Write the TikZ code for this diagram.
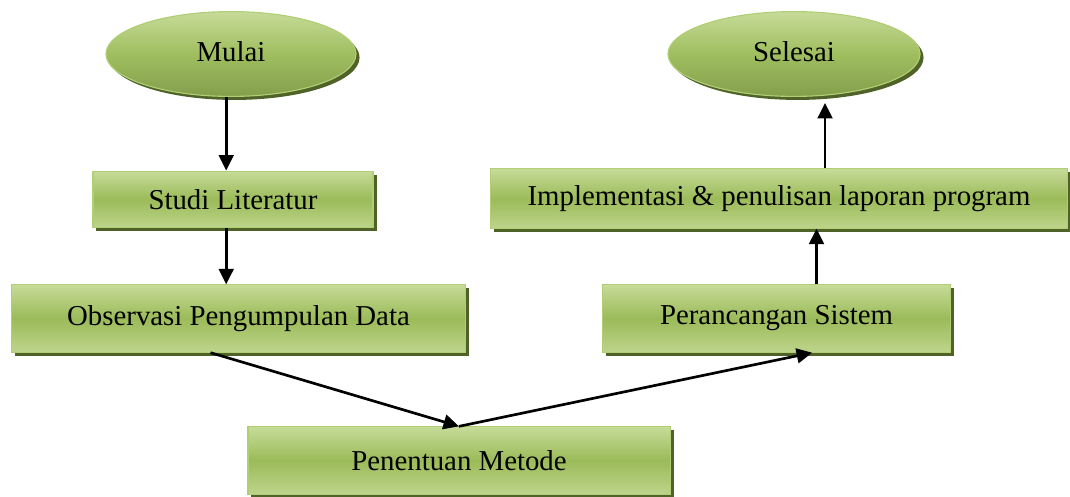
\documentclass[tikz,border=0pt]{standalone}
\usepackage{fontspec}
\setmainfont{Liberation Serif}
\usetikzlibrary{shapes.geometric,shadows,arrows.meta}

\definecolor{hijaumuda}{RGB}{198,219,152}
\definecolor{hijau}{RGB}{155,187,89}
\definecolor{hijautua}{RGB}{79,98,40}
\definecolor{tepi}{RGB}{176,206,115}

\tikzset{
  kotak/.style={rectangle, draw=tepi, line width=0.8pt, inner sep=0pt,
    top color=hijaumuda, bottom color=hijaumuda!80!hijau, middle color=hijau,
    general shadow={fill=hijautua, shadow xshift=2.5pt, shadow yshift=-2.5pt},
    font=\fontsize{20.5}{24}\selectfont},
  elips/.style={ellipse, draw=tepi, line width=0.8pt, inner sep=0pt,
    top color=hijaumuda, bottom color=hijau!85!black, middle color=hijau!90!hijaumuda,
    general shadow={fill=hijautua, shadow xshift=2.5pt, shadow yshift=-2.5pt},
    font=\fontsize{20.5}{24}\selectfont},
  panah/.style={-{Triangle[length=11pt,width=10.5pt]}, line width=1.9pt}
}

\begin{document}
\begin{tikzpicture}[x=0.025cm,y=-0.025cm]
  \useasboundingbox (0,0) rectangle (1070,496);

  \node[elips, minimum width=6.25cm, minimum height=2.12cm] (mulai) at (231,54) {\raisebox{4pt}{Mulai}};
  \node[elips, minimum width=6.3cm, minimum height=2.12cm] (selesai) at (794,54) {\raisebox{4pt}{Selesai}};

  \node[kotak, minimum width=7cm, minimum height=1.42cm] (studi) at (233,199.5) {Studi Literatur};
  \node[kotak, minimum width=11.33cm, minimum height=1.68cm] (observasi) at (238.5,318.5) {Observasi Pengumpulan Data};
  \node[kotak, minimum width=10.55cm, minimum height=1.68cm] (metode) at (459,460.5) {Penentuan Metode};
  \node[kotak, minimum width=8.68cm, minimum height=1.68cm] (rancang) at (776.5,318.5) {Perancangan Sistem};
  \node[kotak, minimum width=14.4cm, minimum height=1.48cm] (implementasi) at (779,198.5) {Implementasi \& penulisan laporan program};

  \draw[panah] ([xshift=-0.12cm]mulai.south) -- ([xshift=-0.12cm]mulai.south |- studi.north);
  \draw[panah] ([xshift=-0.17cm]studi.south) -- ([xshift=-0.17cm]studi.south |- observasi.north);
  \draw[panah] ([xshift=-0.7cm]observasi.south) -- (metode.north);
  \draw[panah] (metode.north) -- ([xshift=0.89cm]rancang.south);
  \draw[panah] ([xshift=1cm]rancang.north) -- ([xshift=1cm]rancang.north |- implementasi.south);
  \draw[panah] ([xshift=1.15cm]implementasi.north) -- ([xshift=1.15cm,yshift=-0.15cm]implementasi.north |- selesai.south);
\end{tikzpicture}
\end{document}
